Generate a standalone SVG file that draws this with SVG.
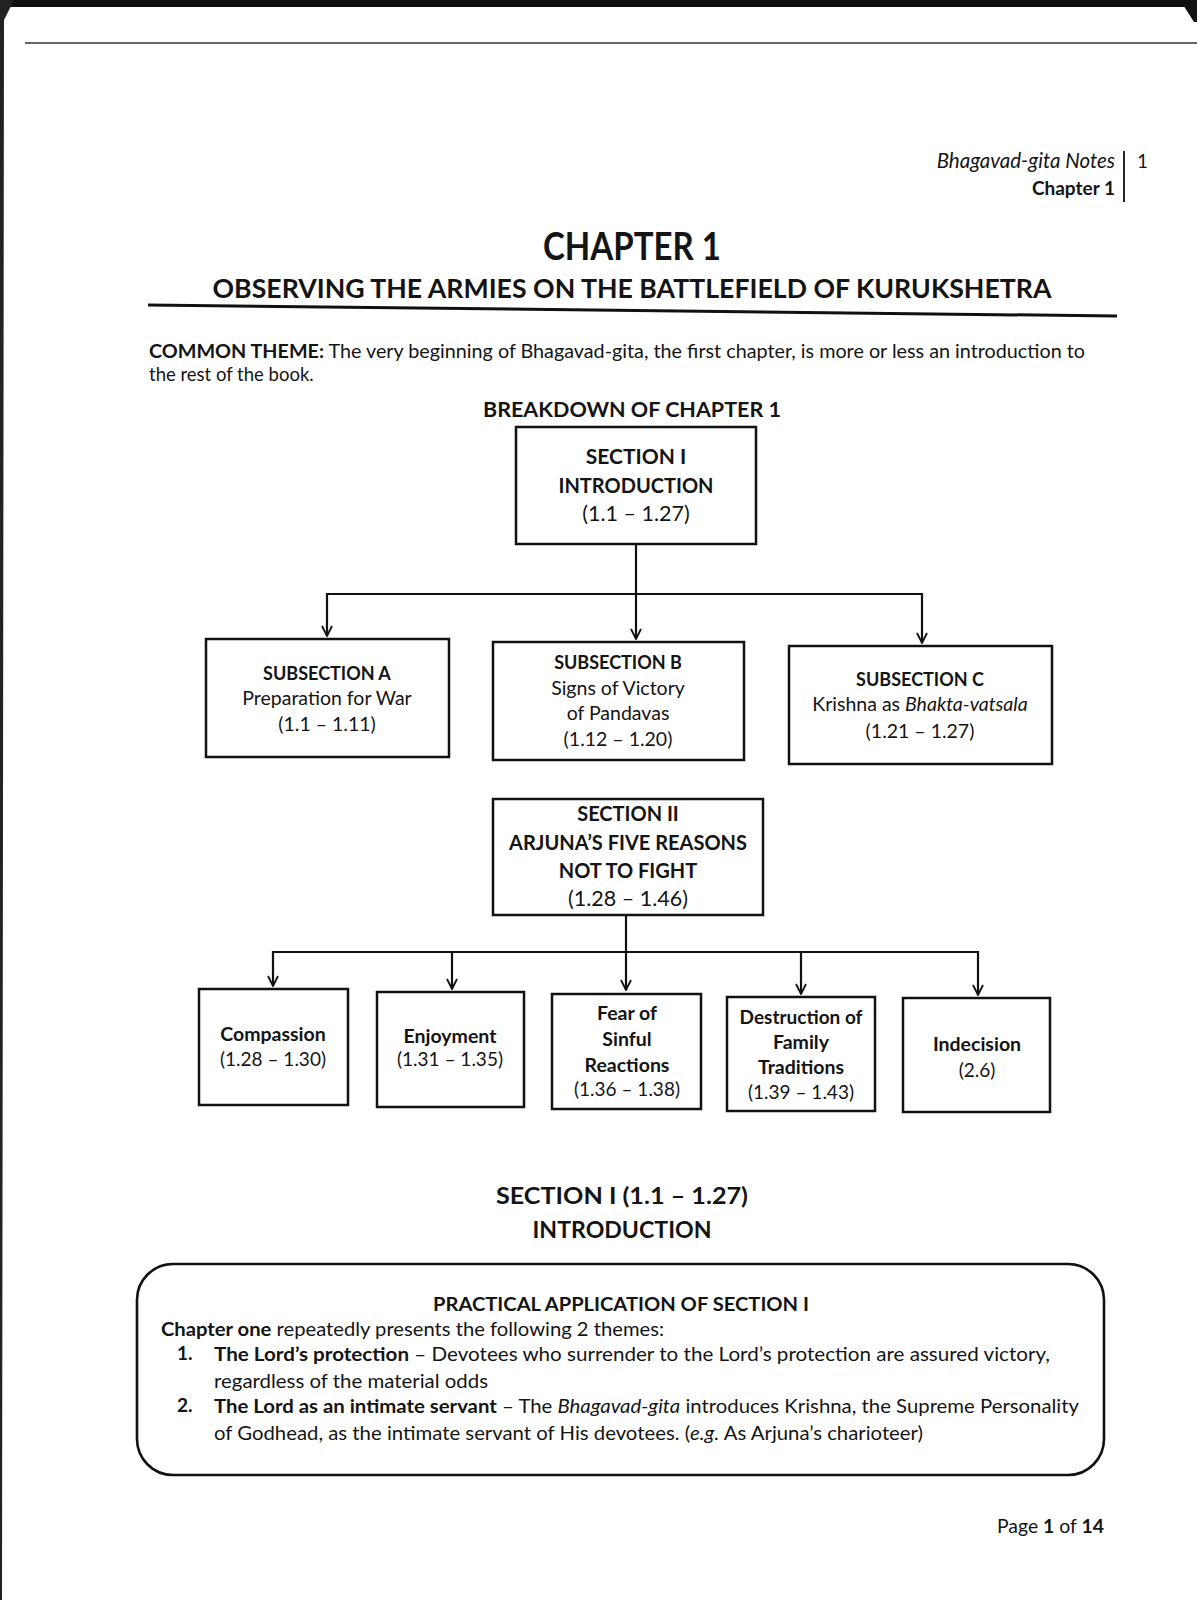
<svg xmlns="http://www.w3.org/2000/svg" width="1197" height="1600" viewBox="0 0 1197 1600">
<style>
text{font-family:Lato,"Open Sans","Liberation Sans",sans-serif;fill:#141414}
.b{font-weight:bold}
.i{font-style:italic}
.c{text-anchor:middle}
.box{fill:#fff;stroke:#111;stroke-width:2.5}
.con{fill:none;stroke:#111;stroke-width:2.2}
.t20{font-size:20px}
.t18{font-size:18px}
.t195{font-size:19.5px}
.t17{font-size:19.5px}
.t19{font-size:19px}
</style>
<defs>
<marker id="arr" viewBox="0 0 12 12" refX="11" refY="6" markerWidth="12" markerHeight="12" markerUnits="userSpaceOnUse" orient="auto">
<path d="M1,1 L11,6 L1,11" fill="none" stroke="#111" stroke-width="1.8"/>
</marker>
</defs>
<rect x="0" y="0" width="1197" height="1600" fill="#fff"/>
<g id="scan-edges">
<rect x="0" y="0" width="1197" height="7" fill="#111"/>
<path d="M0,0 L14,0 L4,20 L2,1600 L0,1600 Z" fill="#222"/>
<path d="M1197,0 L1180,0 L1194,22 L1197,22 Z" fill="#111"/>
<line x1="25" y1="43" x2="1197" y2="43" stroke="#333" stroke-width="1.6"/>
</g>
<g id="header">
<text x="1115" y="168" class="i" font-size="20.5" text-anchor="end">Bhagavad-gita Notes</text>
<text x="1115" y="195" class="b" font-size="19" text-anchor="end">Chapter 1</text>
<line x1="1124" y1="151" x2="1124" y2="202" stroke="#111" stroke-width="1.8"/>
<text x="1137" y="168" font-size="19">1</text>
</g>
<g id="title">
<text x="632" y="260" class="b c" font-size="38" textLength="178" lengthAdjust="spacingAndGlyphs">CHAPTER 1</text>
<text x="632" y="298" class="b c" font-size="27" textLength="839" lengthAdjust="spacingAndGlyphs">OBSERVING THE ARMIES ON THE BATTLEFIELD OF KURUKSHETRA</text>
<line x1="148" y1="305" x2="1117" y2="316" stroke="#111" stroke-width="3"/>
</g>
<g id="theme">
<text x="149" y="358" font-size="18.5" textLength="936" lengthAdjust="spacingAndGlyphs"><tspan class="b">COMMON THEME:</tspan> The very beginning of Bhagavad-gita, the first chapter, is more or less an introduction to</text>
<text x="149" y="381" font-size="18.5">the rest of the book.</text>
<text x="632" y="417" class="b c" font-size="20.5" textLength="298" lengthAdjust="spacingAndGlyphs">BREAKDOWN OF CHAPTER 1</text>
</g>
<g id="connectors">
<path class="con" d="M636,544 L636,639" marker-end="url(#arr)"/>
<path class="con" d="M327,594 L922,594"/>
<path class="con" d="M327,593 L327,636" marker-end="url(#arr)"/>
<path class="con" d="M922,593 L922,643" marker-end="url(#arr)"/>
<path class="con" d="M626,915 L626,990" marker-end="url(#arr)"/>
<path class="con" d="M273,952 L978,952"/>
<path class="con" d="M273,951 L273,986" marker-end="url(#arr)"/>
<path class="con" d="M452,951 L452,989" marker-end="url(#arr)"/>
<path class="con" d="M801,951 L801,994" marker-end="url(#arr)"/>
<path class="con" d="M978,951 L978,995" marker-end="url(#arr)"/>
</g>
<g id="section1">
<rect class="box" x="516" y="427" width="240" height="117"/>
<text x="636" y="464" class="b c" font-size="21">SECTION I</text>
<text x="636" y="493" class="b c t20">INTRODUCTION</text>
<text x="636" y="521" class="c" font-size="21.5">(1.1 – 1.27)</text>
</g>
<g id="subA">
<rect class="box" x="206" y="639" width="243" height="118"/>
<text x="327" y="680" class="b c t18">SUBSECTION A</text>
<text x="327" y="705" class="c t195">Preparation for War</text>
<text x="327" y="731" class="c t195">(1.1 – 1.11)</text>
</g>
<g id="subB">
<rect class="box" x="493" y="642" width="251" height="118"/>
<text x="618" y="669" class="b c t18">SUBSECTION B</text>
<text x="618" y="695" class="c t195">Signs of Victory</text>
<text x="618" y="720" class="c t195">of Pandavas</text>
<text x="618" y="746" class="c t195">(1.12 – 1.20)</text>
</g>
<g id="subC">
<rect class="box" x="789" y="646" width="263" height="118"/>
<text x="920" y="686" class="b c t18">SUBSECTION C</text>
<text x="920" y="711" class="c t195">Krishna as <tspan class="i">Bhakta-vatsala</tspan></text>
<text x="920" y="738" class="c t195">(1.21 – 1.27)</text>
</g>
<g id="section2">
<rect class="box" x="493" y="799" width="270" height="116"/>
<text x="628" y="821" class="b c" font-size="20">SECTION II</text>
<text x="628" y="850" class="b c" font-size="20">ARJUNA’S FIVE REASONS</text>
<text x="628" y="878" class="b c" font-size="20">NOT TO FIGHT</text>
<text x="628" y="906" class="c" font-size="21.5">(1.28 – 1.46)</text>
</g>
<g id="compassion">
<rect class="box" x="199" y="989" width="149" height="116"/>
<text x="273" y="1041" class="b c t17">Compassion</text>
<text x="273" y="1066" class="c t19">(1.28 – 1.30)</text>
</g>
<g id="enjoyment">
<rect class="box" x="377" y="992" width="147" height="115"/>
<text x="450" y="1043" class="b c t17">Enjoyment</text>
<text x="450" y="1066" class="c t19">(1.31 – 1.35)</text>
</g>
<g id="fear">
<rect class="box" x="552" y="994" width="149" height="115"/>
<text x="627" y="1020" class="b c t17">Fear of</text>
<text x="627" y="1046" class="b c t17">Sinful</text>
<text x="627" y="1072" class="b c t17">Reactions</text>
<text x="627" y="1096" class="c t19">(1.36 – 1.38)</text>
</g>
<g id="destruction">
<rect class="box" x="727" y="997" width="148" height="114"/>
<text x="801" y="1024" class="b c" font-size="19">Destruction of</text>
<text x="801" y="1049" class="b c t17">Family</text>
<text x="801" y="1074" class="b c t17">Traditions</text>
<text x="801" y="1099" class="c t19">(1.39 – 1.43)</text>
</g>
<g id="indecision">
<rect class="box" x="903" y="998" width="147" height="114"/>
<text x="977" y="1051" class="b c t17">Indecision</text>
<text x="977" y="1077" class="c t19">(2.6)</text>
</g>
<g id="section1-heading">
<text x="622" y="1204" class="b c" font-size="22" textLength="252" lengthAdjust="spacingAndGlyphs">SECTION I (1.1 – 1.27)</text>
<text x="622" y="1238" class="b c" font-size="22" textLength="179" lengthAdjust="spacingAndGlyphs">INTRODUCTION</text>
</g>
<g id="practical">
<rect x="137" y="1264" width="967" height="211" rx="36" ry="36" fill="#fff" stroke="#111" stroke-width="2.6"/>
<text x="621" y="1311" class="b c t19" textLength="376" lengthAdjust="spacingAndGlyphs">PRACTICAL APPLICATION OF SECTION I</text>
<text x="161" y="1336" class="t19" textLength="503" lengthAdjust="spacingAndGlyphs"><tspan class="b">Chapter one</tspan> repeatedly presents the following 2 themes:</text>
<text x="177" y="1360" class="b t19">1.</text>
<text x="214" y="1361" class="t19" textLength="836" lengthAdjust="spacingAndGlyphs"><tspan class="b">The Lord’s protection</tspan> – Devotees who surrender to the Lord’s protection are assured victory,</text>
<text x="214" y="1388" class="t19" textLength="274" lengthAdjust="spacingAndGlyphs">regardless of the material odds</text>
<text x="177" y="1412" class="b t19">2.</text>
<text x="214" y="1413" class="t19" textLength="865" lengthAdjust="spacingAndGlyphs"><tspan class="b">The Lord as an intimate servant</tspan> – The <tspan class="i">Bhagavad-gita</tspan> introduces Krishna, the Supreme Personality</text>
<text x="214" y="1440" class="t19" textLength="709" lengthAdjust="spacingAndGlyphs">of Godhead, as the intimate servant of His devotees. (<tspan class="i">e.g.</tspan> As Arjuna’s charioteer)</text>
</g>
<g id="footer">
<text x="997" y="1533" class="t19" textLength="107" lengthAdjust="spacingAndGlyphs">Page <tspan class="b">1</tspan> of <tspan class="b">14</tspan></text>
</g>
</svg>
